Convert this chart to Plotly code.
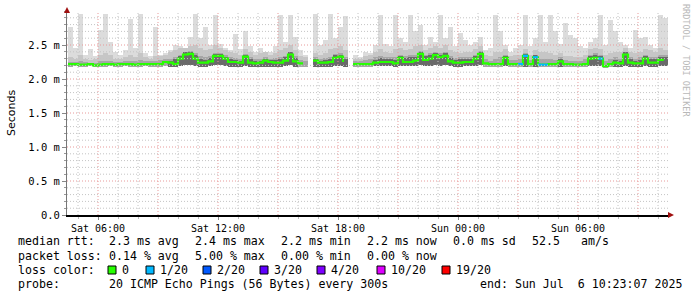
import plotly.graph_objects as go
import pandas as pd

# ---------------- data (15-minute steps, values in ms) ----------------
start_time = "2025-07-05 04:30"
median_ms = [2.22, 2.22, 2.21, 2.21, 2.22, 2.20, 2.21, 2.22, 2.22, 2.21, 2.22, 2.22, 2.22, 2.21, 2.22, 2.22, 2.22, 2.22,
             2.22, 2.25, 2.24, 2.22, 2.30, 2.36, 2.37, 2.30, 2.24, 2.24, 2.26, 2.34,
             2.34, 2.30, 2.25, 2.25, 2.24, 2.33, 2.24, 2.23, 2.24, 2.27, 2.25, 2.24, 2.24, 2.27, 2.36, 2.26, 2.23, 2.23,
             None,
             2.27, 2.24, 2.24, 2.25, 2.31, 2.33, 2.25,
             None,
             2.22, 2.22, 2.22, 2.22, 2.24, 2.25, 2.25, 2.25, 2.23, 2.31, 2.25, 2.25, 2.27, 2.37, 2.28, 2.30, 2.35, 2.32,
             2.34, 2.26, 2.24, 2.24, 2.25, 2.25, 2.30, 2.37, 2.23, 2.22, 2.22, 2.22, 2.31, 2.22, 2.22,
             2.22, 2.34, 2.22, 2.32, 2.21, 2.21, 2.22, 2.22, 2.26, 2.22, 2.22, 2.21, 2.21, 2.22, 2.30, 2.31, 2.30, 2.19,
             2.22, 2.24, 2.23, 2.36, 2.24, 2.23, 2.23, 2.30, 2.24, 2.24, 2.28, 2.27]

loss_of_20 = [0] * 90 + [1, 1, 0, 1, 1, 1, 0, 0, 0, 0, 0, 0, 0, 0, 0, 0, 1, 0, 0, 0, 0, 0, 0, 0, 0, 0, 0, 0, 0, 0]

smoke_max = [2.76, 2.45, 2.96, 2.36, 2.44, 2.34, 2.72, 2.95, 2.55, 2.40, 2.36, 2.42, 2.88, 2.45, 2.95, 2.38, 2.34, 2.77,
             2.36, 2.38, 2.42, 2.50, 2.48, 2.45, 2.62, 2.95, 2.60, 2.77, 2.50, 2.94,
             2.52, 2.45, 2.42, 2.66, 2.44, 2.70, 2.48, 2.40, 2.45, 2.38, 2.40, 2.48, 2.94, 2.55, 2.94, 2.62, 2.42, 2.36,
             None,
             2.95, 2.50, 2.58, 2.95, 2.60, 2.77, 2.92,
             None,
             2.36, 2.32, 2.40, 2.38, 2.50, 2.94, 2.52, 2.48, 2.94, 2.60, 2.55, 2.94, 2.70, 2.80, 2.50, 2.62, 2.55, 2.94,
             2.60, 2.77, 2.48, 2.67, 2.58, 2.50, 2.55, 2.62, 2.42, 2.45, 2.94, 2.70, 2.50, 2.40, 2.45,
             2.50, 2.94, 2.48, 2.60, 2.94, 2.55, 2.94, 2.70, 2.52, 2.82, 2.65, 2.60, 2.48, 2.45, 2.55, 2.60, 2.94, 2.50,
             2.87, 2.70, 2.55, 2.50, 2.45, 2.72, 2.60, 2.62, 2.50, 2.45, 2.94, 2.90]

smoke_hi = [2.32, 2.30, 2.36, 2.30, 2.28, 2.30, 2.35, 2.38, 2.36, 2.30, 2.29, 2.32, 2.36, 2.32, 2.38, 2.32, 2.30, 2.34,
            2.34, 2.36, 2.40, 2.42, 2.45, 2.46, 2.48, 2.50, 2.45, 2.42, 2.44, 2.50,
            2.46, 2.42, 2.40, 2.38, 2.36, 2.44, 2.40, 2.36, 2.38, 2.40, 2.36, 2.38, 2.42, 2.45, 2.50, 2.42, 2.34, 2.32,
            None,
            2.38, 2.35, 2.38, 2.44, 2.45, 2.48, 2.42,
            None,
            2.30, 2.30, 2.34, 2.36, 2.40, 2.44, 2.40, 2.38, 2.44, 2.46, 2.42, 2.44, 2.48, 2.50, 2.42, 2.45, 2.48, 2.46,
            2.50, 2.42, 2.40, 2.38, 2.40, 2.40, 2.44, 2.48, 2.36, 2.34, 2.40, 2.40, 2.44, 2.34, 2.36,
            2.36, 2.44, 2.36, 2.42, 2.40, 2.40, 2.38, 2.36, 2.38, 2.34, 2.34, 2.32, 2.32, 2.36, 2.44, 2.46, 2.44, 2.36,
            2.38, 2.40, 2.40, 2.46, 2.40, 2.38, 2.40, 2.44, 2.42, 2.40, 2.45, 2.42]

smoke_mid = [2.25, 2.25, 2.26, 2.25, 2.24, 2.24, 2.26, 2.27, 2.26, 2.25, 2.25, 2.26, 2.27, 2.26, 2.28, 2.26, 2.26, 2.27,
             2.28, 2.30, 2.30, 2.32, 2.36, 2.40, 2.41, 2.38, 2.34, 2.32, 2.34, 2.38,
             2.38, 2.36, 2.32, 2.31, 2.30, 2.37, 2.32, 2.29, 2.30, 2.32, 2.30, 2.31, 2.33, 2.34, 2.40, 2.34, 2.28, 2.27,
             None,
             2.32, 2.30, 2.31, 2.33, 2.37, 2.38, 2.32,
             None,
             2.26, 2.26, 2.28, 2.30, 2.32, 2.34, 2.33, 2.32, 2.32, 2.36, 2.34, 2.35, 2.36, 2.41, 2.36, 2.38, 2.40, 2.38,
             2.40, 2.34, 2.31, 2.32, 2.33, 2.33, 2.36, 2.41, 2.30, 2.27, 2.30, 2.32, 2.36, 2.28, 2.28,
             2.30, 2.38, 2.28, 2.36, 2.30, 2.30, 2.30, 2.28, 2.32, 2.28, 2.27, 2.26, 2.27, 2.30, 2.36, 2.38, 2.36, 2.26,
             2.30, 2.32, 2.30, 2.40, 2.32, 2.30, 2.32, 2.36, 2.32, 2.32, 2.36, 2.36]

smoke_dark = [None] * 20 + [
             2.27, 2.30, 2.34, 2.39, 2.40, 2.36, 2.30, 2.28, 2.31, 2.37,
             2.37, 2.33, 2.29, 2.28, 2.27, 2.35, 2.29, 2.26, 2.27, 2.30, 2.28, 2.28, 2.30, 2.32, 2.39, 2.31, None, None,
             None,
             2.30, 2.27, 2.28, 2.30, 2.35, 2.36, 2.29,
             None,
             None, None, None, None, 2.28, 2.31, 2.30, 2.29, 2.28, 2.34, 2.31, 2.32, 2.33, 2.40, 2.34, 2.35, 2.38, 2.36,
             2.38, 2.31, 2.28, 2.29, 2.30, 2.30, 2.34, 2.40, None, None, None, None, 2.34, None, None,
             None, 2.37, None, 2.35, None, None, None, None, 2.29, None, None, None, None, None, 2.34, 2.36, 2.34, None,
             None, 2.28, 2.27, 2.39, 2.29, 2.27, 2.28, 2.34, 2.29, 2.29, 2.32, 2.32]

smoke_min = [2.18, 2.19, 2.17, 2.18, 2.19, 2.17, 2.18, 2.18, 2.19, 2.18, 2.18, 2.19, 2.18, 2.18, 2.18, 2.19, 2.18, 2.18,
             2.18, 2.19, 2.18, 2.18, 2.19, 2.20, 2.20, 2.19, 2.18, 2.18, 2.19, 2.20,
             2.20, 2.19, 2.18, 2.18, 2.18, 2.19, 2.18, 2.17, 2.18, 2.18, 2.18, 2.18, 2.18, 2.19, 2.20, 2.18, 2.18, 2.18,
             None,
             2.18, 2.18, 2.18, 2.18, 2.19, 2.19, 2.18,
             None,
             2.18, 2.18, 2.18, 2.18, 2.19, 2.19, 2.19, 2.19, 2.18, 2.19, 2.19, 2.19, 2.19, 2.20, 2.19, 2.19, 2.20, 2.19,
             2.20, 2.19, 2.18, 2.18, 2.19, 2.19, 2.19, 2.20, 2.18, 2.18, 2.18, 2.18, 2.19, 2.18, 2.18,
             2.17, 2.18, 2.17, 2.18, 2.17, 2.17, 2.18, 2.18, 2.18, 2.18, 2.17, 2.17, 2.17, 2.18, 2.19, 2.19, 2.19, 2.16,
             2.18, 2.18, 2.18, 2.19, 2.18, 2.18, 2.18, 2.19, 2.18, 2.18, 2.19, 2.19]

y_tick_values = [0.0, 0.5, 1.0, 1.5, 2.0, 2.5]
y_tick_labels = ["0.0", "0.5 m", "1.0 m", "1.5 m", "2.0 m", "2.5 m"]
y_minor_step = 0.1
y_top = 3.0
x_grid_times = ["2025-07-05 06:00", "2025-07-05 12:00", "2025-07-05 18:00",
                "2025-07-06 00:00", "2025-07-06 06:00"]
x_grid_labels = ["Sat 06:00", "Sat 12:00", "Sat 18:00", "Sun 00:00", "Sun 06:00"]
x_range = ["2025-07-05 04:27", "2025-07-06 10:30"]

loss_levels = ["0", "1/20", "2/20", "3/20", "4/20", "10/20", "19/20"]
loss_colors = ["#26ff00", "#00b8ff", "#0059ff", "#5e00ff", "#7e00ff", "#dd00ff", "#ff0000"]

stats_rtt = ["2.3 ms avg", "2.4 ms max", "2.2 ms min", "2.2 ms now", "0.0 ms sd", "52.5", "am/s"]
stats_loss = ["0.14 % avg", "5.00 % max", "0.00 % min", "0.00 % now"]
probe_text = "20 ICMP Echo Pings (56 Bytes) every 300s"
end_text = "end: Sun Jul  6 10:23:07 2025"

# ---------------- figure ----------------
W, H = 697, 297
L, R, T, B = 67, 668, 11, 215
PW, PH = R - L, B - T
MONO = "DejaVu Sans Mono"
GRID_GRAY = "#c4c4c4"
GRID_RED = "#e89a9a"
DOTS = "1px,2px"

def px(p):
    return (p - L) / PW

def py(q):
    return (B - q) / PH

times = pd.date_range(start_time, periods=len(median_ms), freq="15min")
step_ms = 15 * 60 * 1000

fig = go.Figure()

for top, color in [(smoke_max, "#dcdcdc"), (smoke_hi, "#c6c6c6"), (smoke_mid, "#a6a6a6"), (smoke_dark, "#6a6a6a")]:
    heights = [None if (a is None or b is None) else a - b for a, b in zip(top, smoke_min)]
    fig.add_trace(go.Bar(x=times, y=heights, base=smoke_min, width=step_ms, offset=0,
                         marker=dict(color=color, line=dict(width=0)), showlegend=False,
                         hoverinfo="skip"))

fig.add_trace(go.Scatter(x=times, y=median_ms, mode="lines", line=dict(color=loss_colors[0], width=2.2, shape="hv"),
                         connectgaps=False, showlegend=False, hoverinfo="skip"))

for lvl in range(1, len(loss_levels)):
    xs, ys = [], []
    for t, m, lo in zip(times, median_ms, loss_of_20):
        if lo == lvl and m is not None:
            xs += [t, t + pd.Timedelta(minutes=15), None]
            ys += [m, m, None]
    if xs:
        fig.add_trace(go.Scatter(x=xs, y=ys, mode="lines", line=dict(color=loss_colors[lvl], width=2.2),
                                 showlegend=False, hoverinfo="skip"))

fig.update_layout(
    width=W, height=H,
    margin=dict(l=L, r=W - R, t=T, b=H - B),
    paper_bgcolor="white", plot_bgcolor="white",
    barmode="overlay", bargap=0,
    font=dict(family=MONO, size=10, color="black"),
    showlegend=False,
)

fig.update_xaxes(
    type="date", range=x_range,
    tickmode="array", tickvals=x_grid_times, ticktext=x_grid_labels,
    showgrid=False,
    ticks="outside", ticklen=3, tickcolor="#888",
    showline=True, linecolor="black", linewidth=1.5,
    tickfont=dict(family=MONO, size=10),
    minor=dict(dtick=3600000, tick0="2025-07-05 00:00", showgrid=False,
               ticks="outside", ticklen=2, tickcolor="#bbb"),
    zeroline=False, fixedrange=True,
)
fig.update_yaxes(
    range=[0, y_top],
    tickmode="array", tickvals=y_tick_values, ticktext=y_tick_labels,
    showgrid=False,
    ticks="outside", ticklen=4, tickcolor="#888",
    showline=True, linecolor="#777", linewidth=1,
    tickfont=dict(family=MONO, size=10.5),
    minor=dict(tickmode="linear", tick0=0, dtick=y_minor_step, showgrid=False,
               ticks="outside", ticklen=2, tickcolor="#999"),
    zeroline=False, fixedrange=True,
)

shapes = []
# grid drawn on top of the smoke, as rrdtool does
n_minor = int(round(y_top / y_minor_step))
for k in range(1, n_minor):
    v = k * y_minor_step
    red = abs(v / 0.5 - round(v / 0.5)) < 1e-6
    shapes.append(dict(type="line", xref="paper", yref="y", x0=0, x1=1, y0=v, y1=v, layer="above",
                       line=dict(color=GRID_RED if red else GRID_GRAY, width=1, dash=DOTS)))
for hr in pd.date_range("2025-07-05 05:00", "2025-07-06 10:00", freq="1h"):
    red = hr.hour % 3 == 0
    shapes.append(dict(type="line", xref="x", yref="paper", x0=hr, x1=hr, y0=0, y1=1, layer="above",
                       line=dict(color=GRID_RED if red else GRID_GRAY, width=1, dash=DOTS)))

# axis arrows
shapes.append(dict(type="path", xref="paper", yref="paper",
                   path=f"M {px(668)},{py(212)} L {px(674)},{py(215)} L {px(668)},{py(218)} Z",
                   fillcolor="#a01010", line=dict(width=0)))
shapes.append(dict(type="path", xref="paper", yref="paper",
                   path=f"M {px(64)},{py(13)} L {px(67)},{py(7)} L {px(70)},{py(13)} Z",
                   fillcolor="#a01010", line=dict(width=0)))

annotations = []

def text_at(xp, yp, s, size=11.6, color="black", family=MONO, angle=0, anchor="left"):
    annotations.append(dict(text=s, x=px(xp), y=py(yp), xref="paper", yref="paper", showarrow=False,
                            xanchor=anchor, yanchor="middle", textangle=angle,
                            font=dict(family=family, size=size, color=color)))

text_at(11, 113, "Seconds", size=11, family="DejaVu Sans", angle=-90, anchor="center")
text_at(686, 60, "RRDTOOL / TOBI OETIKER", size=8.5, color="#b8b8b8", angle=90, anchor="center")

y1, y2, y3, y4 = 241, 256, 270, 284
text_at(16, y1, "median rtt:")
for xp, s in zip([107, 193, 279, 365, 451, 530, 579], stats_rtt):
    text_at(xp, y1, s)
text_at(16, y2, "packet loss:")
for xp, s in zip([107, 193, 279, 365], stats_loss):
    text_at(xp, y2, s)
text_at(16, y3, "loss color:")
box_x = [108, 146, 203, 260, 317, 377, 442]
for bx, lab, col in zip(box_x, loss_levels, loss_colors):
    shapes.append(dict(type="rect", xref="paper", yref="paper",
                       x0=px(bx), x1=px(bx + 8), y0=py(274), y1=py(266),
                       fillcolor=col, line=dict(color="black", width=1)))
    text_at(bx + 12, y3, lab)
text_at(16, y4, "probe:")
text_at(107, y4, probe_text)
text_at(478, y4, end_text)

fig.update_layout(shapes=shapes, annotations=annotations)

fig.write_html("out.html")
